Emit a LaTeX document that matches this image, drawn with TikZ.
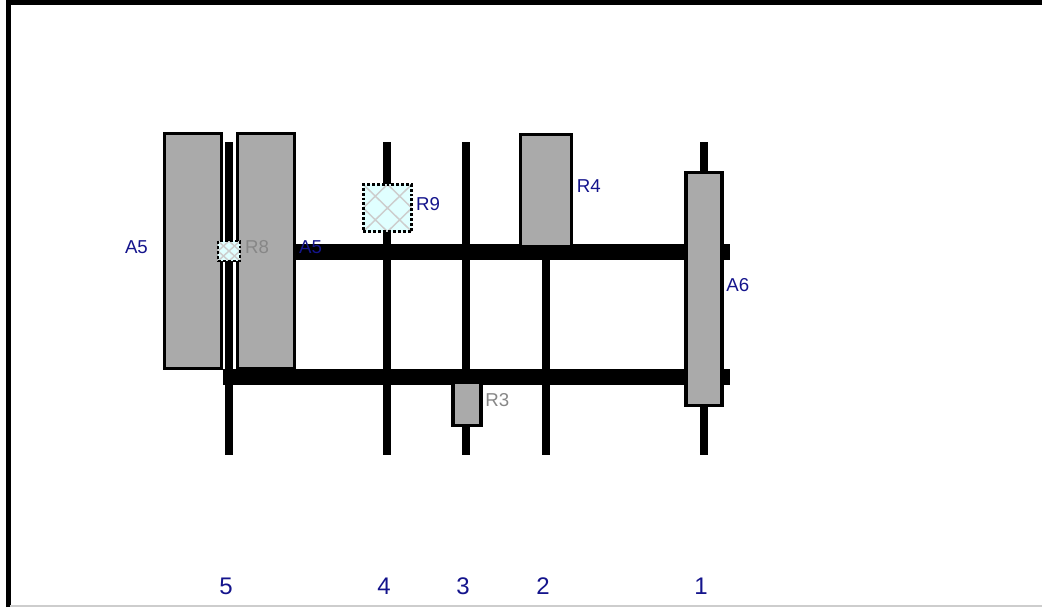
\documentclass[tikz,border=0pt]{standalone}
\usepackage{fontspec}
\setmainfont{Liberation Sans}
\usepackage{tikz}
\usetikzlibrary{positioning}
\usepackage{xcolor}
\definecolor{labelblue}{RGB}{20,20,140}
\definecolor{labelgray}{RGB}{135,135,135}
\definecolor{partgray}{RGB}{170,170,170}
\definecolor{hatchcyan}{RGB}{224,255,255}
\definecolor{hatchgray}{RGB}{205,205,205}

\begin{document}
\begin{tikzpicture}[x=0.75pt, y=-0.75pt,
  shaft/.style={line width=6pt},
  bar/.style={line width=12pt},
  part/.style={draw=black, fill=partgray, line width=2.3pt, inner sep=0pt},
  hatchline/.style={draw=hatchgray, line width=1.1pt, solid},
  hatch/.style={draw=black, fill=hatchcyan, line width=2.2pt, dash pattern=on 2.2pt off 1.5pt, inner sep=0pt,
    path picture={\draw[hatchline]
      (path picture bounding box.north west) -- (path picture bounding box.south east)
      (path picture bounding box.north east) -- (path picture bounding box.south west)
      (path picture bounding box.north) -- (path picture bounding box.east) -- (path picture bounding box.south)
      -- (path picture bounding box.west) -- cycle;}},
  lbl/.style={font=\fontsize{14}{14}\selectfont, text=labelblue, inner sep=0pt, yshift=3.2pt},
  gray lbl/.style={lbl, text=labelgray},
  num/.style={font=\fontsize{18}{18}\selectfont, text=labelblue, inner sep=0pt}
]
\useasboundingbox (0,0) rectangle (1042,607);
% shafts and numbers
\foreach \x/\n in {229/5, 387/4, 466/3, 704/1} {
  \draw[shaft] (\x,142) -- (\x,455);
  \node[num] (num\n) at (\x-3,586) {\n};
}
\draw[shaft] (546,252) -- (546,455);
\node[num] (num2) at (543,586) {2};
% bars
\draw[bar] (290,252) -- (730,252);
\draw[bar] (223,377) -- (730,377);
% parts
\node[part, minimum width=43pt, minimum height=176.5pt] (a5l) at (193,251) {};
\node[part, minimum width=43pt, minimum height=176.5pt] (a5r) at (266,251) {};
\node[part, minimum width=38.5pt, minimum height=84.5pt] (r4) at (546,190.5) {};
\node[part, minimum width=21pt, minimum height=32pt] (r3) at (467,404) {};
\node[part, minimum width=27pt, minimum height=175pt] (a6) at (704,289) {};
\node[hatch, minimum width=36.5pt, minimum height=35.5pt] (r9) at (387.5,208) {};
\node[hatch, minimum width=16.5pt, minimum height=15pt] (r8) at (229,251) {};
% labels
\node[lbl, left=11pt of a5l] (a5lt) {A5};
\node[lbl, right=2pt of a5r] (a5rt) {A5};
\node[gray lbl, right=2.5pt of r8] (r8t) {R8};
\node[lbl, right=2pt of r9] (r9t) {R9};
\node[lbl, right=2.5pt of r4] (r4t) {R4};
\node[lbl, right=2pt of a6] (a6t) {A6};
\node[gray lbl, right=2pt of r3] (r3t) {R3};
% frame
\draw[line width=3.4pt] (8.5,607) -- (8.5,2.3) -- (1042,2.3);
\draw[hatchgray, line width=1.2pt] (10,606) -- (1042,606);
\end{tikzpicture}
\end{document}
